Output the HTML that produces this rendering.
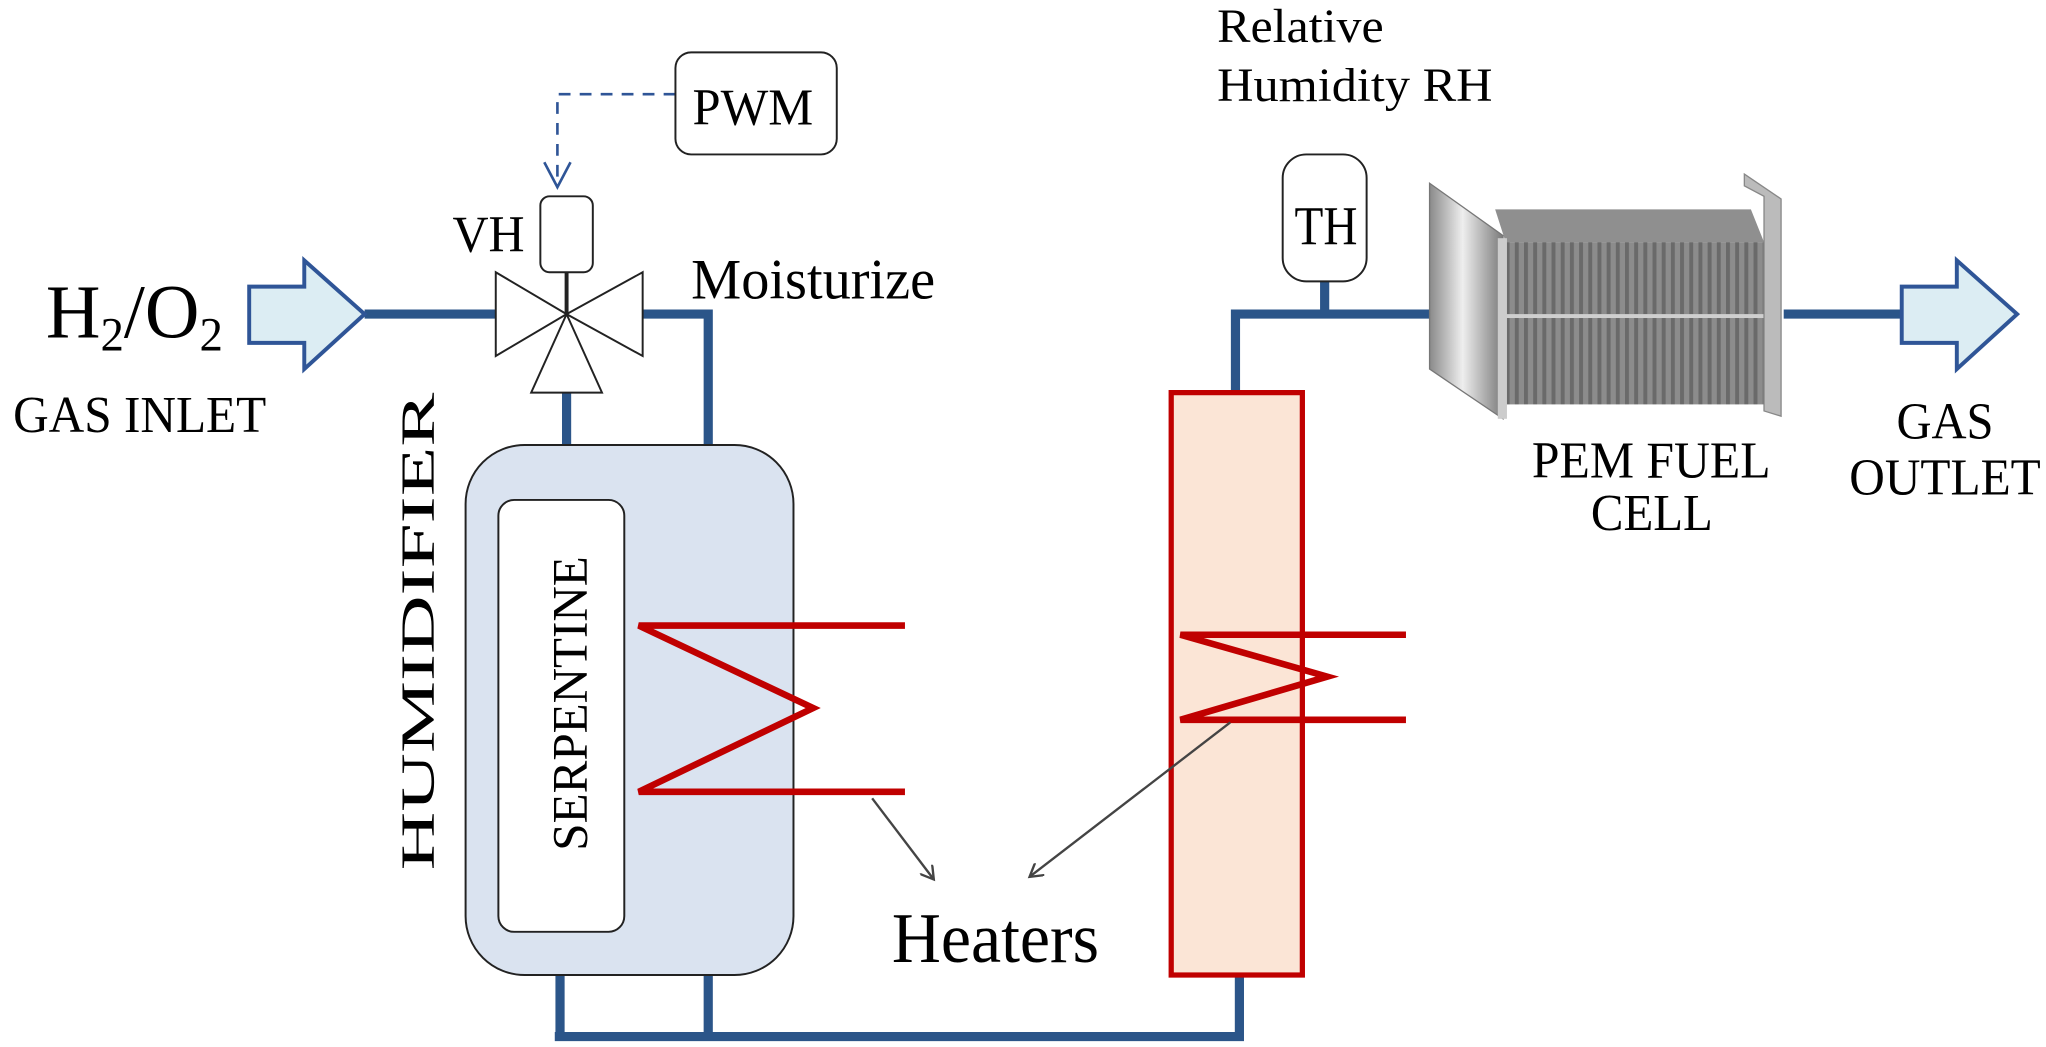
<!DOCTYPE html>
<html><head><meta charset="utf-8"><style>
html,body{margin:0;padding:0;background:#fff;}
svg{display:block;}
text{font-family:"Liberation Serif",serif;fill:#000;}
</style></head><body>
<svg width="2046" height="1047" viewBox="0 0 1560 800" preserveAspectRatio="none" xmlns="http://www.w3.org/2000/svg">
<defs>
<marker id="ah" markerWidth="12" markerHeight="12" refX="10" refY="6" orient="auto" markerUnits="userSpaceOnUse">
<path d="M0,0 L10,6 L0,12" fill="none" stroke="#444" stroke-width="1.8"/></marker>
<linearGradient id="plate" x1="0" x2="1" y1="0" y2="0">
<stop offset="0" stop-color="#8a8a8a"/><stop offset="0.45" stop-color="#eeeeee"/><stop offset="1" stop-color="#7a7a7a"/></linearGradient>
<pattern id="fins" width="7" height="10" patternUnits="userSpaceOnUse">
<rect width="7" height="10" fill="#8c8c8c"/><rect width="3" height="10" fill="#6a6a6a"/></pattern>
</defs>
<g stroke="#2b5589" stroke-width="7" fill="none">
<path d="M278,240 H380"/>
<path d="M488,240 H540 V342"/>
<path d="M432,298 V384"/>
<path d="M427,712 V792 M540,744 V792 M423,792 H945 V744"/>
<path d="M942,302 V240 H1095 M1010,240 V214"/>
<path d="M1360,240 H1452"/>
</g>
<path d="M190,219 H232 V199 L278,240 L232,282 V262 H190 Z" fill="#dcedf3" stroke="#2f5597" stroke-width="3"/>
<path d="M1450,219 H1492 V199 L1538,240 L1492,282 V262 H1450 Z" fill="#dcedf3" stroke="#2f5597" stroke-width="3"/>
<g stroke="#222" stroke-width="1.5" fill="#fff">
<path d="M378,208 L432,240 L378,272 Z"/>
<path d="M490,208 L432,240 L490,272 Z"/>
<path d="M432,240 L405,300 L459,300 Z"/>
<rect x="412" y="150" width="40" height="58" rx="7"/>
<path d="M432,208 V240" stroke-width="3"/>
</g>
<path d="M515,72 H425 V142" fill="none" stroke="#2f5597" stroke-width="2" stroke-dasharray="9,7"/>
<path d="M415,124 L425,143 L435,124" fill="none" stroke="#2f5597" stroke-width="2"/>
<rect x="515" y="40" width="123" height="78" rx="12" fill="#fff" stroke="#222" stroke-width="1.5"/>
<text x="528" y="95" font-size="40" textLength="92" lengthAdjust="spacingAndGlyphs">PWM</text>
<text x="345" y="192" font-size="40" textLength="55" lengthAdjust="spacingAndGlyphs">VH</text>
<text x="527" y="228" font-size="44" textLength="186" lengthAdjust="spacingAndGlyphs">Moisturize</text>
<text x="35" y="258" font-size="58" textLength="135" lengthAdjust="spacingAndGlyphs">H<tspan font-size="36" dy="10">2</tspan><tspan dy="-10">/O</tspan><tspan font-size="36" dy="10">2</tspan></text>
<text x="10" y="330" font-size="40" textLength="193" lengthAdjust="spacingAndGlyphs">GAS INLET</text>
<rect x="355" y="340" width="250" height="405" rx="45" fill="#dae3f0" stroke="#222" stroke-width="1.5"/>
<rect x="380" y="382" width="96" height="330" rx="12" fill="#fff" stroke="#222" stroke-width="1.5"/>
<text transform="translate(447,650) rotate(-90)" font-size="38" textLength="225" lengthAdjust="spacingAndGlyphs">SERPENTINE</text>
<text transform="translate(331,665) rotate(-90)" font-size="36" textLength="365" lengthAdjust="spacingAndGlyphs">HUMIDIFIER</text>
<path d="M690,478 H487 L620,541 L487,605 H690" fill="none" stroke="#c00000" stroke-width="5"/>
<rect x="893" y="300" width="100" height="445" fill="#fbe5d6" stroke="#c00000" stroke-width="4"/>
<path d="M1072,485 H900 L1012,517 L900,550 H1072" fill="none" stroke="#c00000" stroke-width="5"/>
<path d="M665,610 L712,672" stroke="#444" stroke-width="1.8" marker-end="url(#ah)"/>
<path d="M938,552 L785,670" stroke="#444" stroke-width="1.8" marker-end="url(#ah)"/>
<text x="680" y="735" font-size="54" textLength="158" lengthAdjust="spacingAndGlyphs">Heaters</text>
<rect x="978" y="118" width="64" height="97" rx="18" fill="#fff" stroke="#222" stroke-width="1.5"/>
<text x="987" y="187" font-size="42" textLength="48" lengthAdjust="spacingAndGlyphs">TH</text>
<text x="928" y="32" font-size="36" textLength="127" lengthAdjust="spacingAndGlyphs">Relative</text>
<text x="928" y="77" font-size="36" textLength="210" lengthAdjust="spacingAndGlyphs">Humidity RH</text>
<polygon points="1140,160 1335,160 1345,185 1148,185" fill="#8f8f8f"/>
<rect x="1146" y="185" width="199" height="124" fill="url(#fins)"/>
<rect x="1146" y="240" width="199" height="3" fill="#cfcfcf"/>
<polygon points="1090,140 1146,180 1146,320 1090,282" fill="url(#plate)" stroke="#777" stroke-width="1"/>
<rect x="1142" y="182" width="7" height="138" fill="#ccc"/>
<polygon points="1330,133 1358,152 1358,318 1345,314 1345,150 1330,142" fill="#bbb" stroke="#888" stroke-width="1"/>
<text x="1168" y="365" font-size="40" textLength="182" lengthAdjust="spacingAndGlyphs">PEM FUEL</text>
<text x="1213" y="405" font-size="40" textLength="93" lengthAdjust="spacingAndGlyphs">CELL</text>
<text x="1446" y="335" font-size="40" textLength="74" lengthAdjust="spacingAndGlyphs">GAS</text>
<text x="1410" y="378" font-size="40" textLength="146" lengthAdjust="spacingAndGlyphs">OUTLET</text>
</svg>
</body></html>
